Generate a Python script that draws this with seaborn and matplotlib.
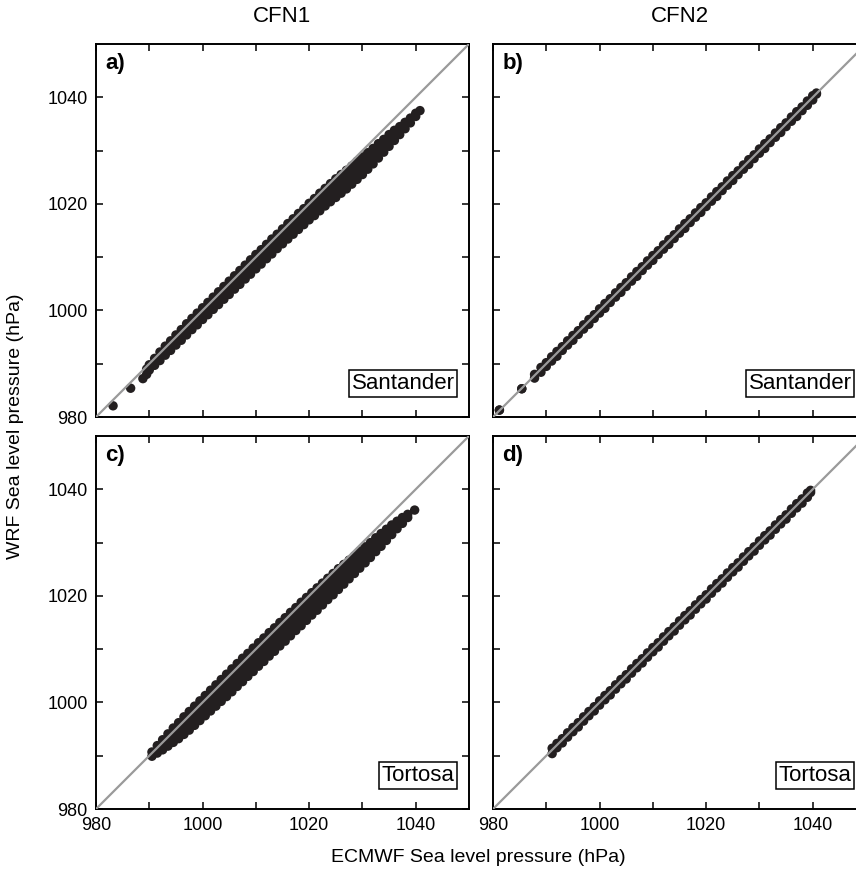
import matplotlib
matplotlib.use("Agg")
import matplotlib.pyplot as plt
import pandas as pd
import seaborn as sns
from matplotlib.ticker import FixedLocator

# ---------------- data ----------------
# Panel a: Santander, CFN1  (column x -> WRF values)
a_ecmwf = [983.2, 986.5, 988.8, 989.5, 990, 991, 992, 993, 994, 995, 996, 997, 998, 999,
           1000, 1001, 1002, 1003, 1004, 1005, 1006, 1007, 1008, 1009, 1010, 1011, 1012,
           1013, 1014, 1015, 1016, 1017, 1018, 1019, 1020, 1021, 1022, 1023, 1024, 1025,
           1026, 1027, 1028, 1029, 1030, 1031, 1032, 1033, 1034, 1035, 1036, 1037, 1038,
           1039, 1040, 1040.8]
a_wrf = [[982.1], [985.4], [987.2], [989.0, 988.0], [989.8, 988.8], [991.0, 989.7],
         [992.2, 991.4, 990.6], [993.3, 992.4, 991.6], [994.3, 993.4, 992.5],
         [995.4, 994.4, 993.5], [996.4, 995.4, 994.4], [997.5, 996.4, 995.4],
         [998.5, 997.4, 996.4], [999.5, 998.4, 997.3], [1000.5, 999.4, 998.3],
         [1001.5, 1000.4, 999.2], [1002.5, 1001.4, 1000.2], [1003.5, 1002.3, 1001.1],
         [1004.5, 1003.3, 1002.1], [1005.5, 1004.3, 1003.0], [1006.5, 1005.3, 1004.0],
         [1007.5, 1006.2, 1004.9], [1008.5, 1007.2, 1005.9], [1009.5, 1008.2, 1006.8],
         [1010.5, 1009.2, 1007.8], [1011.4, 1010.1, 1008.7], [1012.4, 1011.1, 1009.7],
         [1013.4, 1012.0, 1010.6], [1014.3, 1013.0, 1011.6], [1015.3, 1014.0, 1012.5],
         [1016.3, 1015.0, 1013.4], [1017.2, 1015.8, 1014.3], [1018.2, 1016.7, 1015.2],
         [1019.1, 1017.6, 1016.1], [1020.1, 1018.6, 1017.0],
         [1021.0, 1019.9, 1018.8, 1017.8], [1022.0, 1020.9, 1019.8, 1018.7],
         [1022.9, 1021.8, 1020.7, 1019.6], [1023.8, 1022.7, 1021.5, 1020.4],
         [1024.7, 1023.5, 1022.4, 1021.2], [1025.5, 1024.3, 1023.2, 1022.0],
         [1026.3, 1025.1, 1024.0, 1022.8], [1027.1, 1026.0, 1024.8, 1023.7],
         [1028.0, 1026.9, 1025.7, 1024.6], [1028.8, 1027.7, 1026.6, 1025.5],
         [1029.6, 1028.6, 1027.5, 1026.5], [1030.4, 1029.4, 1028.5, 1027.5],
         [1031.3, 1030.4, 1029.5, 1028.6], [1032.1, 1030.9, 1029.7],
         [1033.0, 1031.9, 1030.8], [1033.8, 1032.8, 1031.9], [1034.5, 1033.0],
         [1035.3, 1034.1], [1036.1, 1035.2], [1037.0, 1036.4], [1037.5]]

# Panel c: Tortosa, CFN1
c_ecmwf = [990.5, 991.5, 992.5, 993.5, 994.5, 995.5, 996.5, 997.5, 998.5, 999.5, 1000.5,
           1001.5, 1002.5, 1003.5, 1004.5, 1005.5, 1006.5, 1007.5, 1008.5, 1009.5, 1010.5,
           1011.5, 1012.5, 1013.5, 1014.5, 1015.5, 1016.5, 1017.5, 1018.5, 1019.5, 1020.5,
           1021.5, 1022.5, 1023.5, 1024.5, 1025.5, 1026.5, 1027.5, 1028.5, 1029.5, 1030.5,
           1031.5, 1032.5, 1033.5, 1034.5, 1035.5, 1036.5, 1037.5, 1038.5, 1039.8]
c_wrf = [[990.7, 989.9], [991.9, 990.5], [993.0, 992.0, 991.1], [994.1, 993.0, 991.8],
         [995.2, 993.9, 992.5], [996.2, 995.2, 994.2, 993.2], [997.3, 996.2, 995.1, 994.0],
         [998.3, 997.1, 996.0, 994.8], [999.3, 998.1, 996.9, 995.7],
         [1000.3, 999.1, 997.8, 996.6], [1001.3, 1000.0, 998.8, 997.5],
         [1002.3, 1001.0, 999.7, 998.4], [1003.3, 1002.0, 1000.6, 999.3],
         [1004.3, 1002.9, 1001.6, 1000.2], [1005.3, 1003.9, 1002.5, 1001.1],
         [1006.3, 1004.9, 1003.4, 1002.0], [1007.3, 1005.9, 1004.4, 1003.0],
         [1008.3, 1006.8, 1005.4, 1003.9], [1009.2, 1007.8, 1006.3, 1004.9],
         [1010.2, 1008.7, 1007.3, 1005.8], [1011.2, 1009.7, 1008.3, 1006.8],
         [1012.1, 1010.6, 1009.2, 1007.7], [1013.1, 1011.6, 1010.2, 1008.7],
         [1014.0, 1012.5, 1011.1, 1009.6], [1015.0, 1013.5, 1012.1, 1010.6],
         [1015.9, 1014.4, 1013.0, 1011.5], [1016.9, 1015.4, 1014.0, 1012.5],
         [1017.8, 1016.4, 1014.9, 1013.5], [1018.8, 1017.3, 1015.9, 1014.4],
         [1019.7, 1018.3, 1016.8, 1015.4], [1020.6, 1019.2, 1017.8, 1016.4],
         [1021.5, 1020.1, 1018.7, 1017.3], [1022.4, 1021.0, 1019.7, 1018.3],
         [1023.3, 1022.0, 1020.6, 1019.3], [1024.2, 1022.9, 1021.5, 1020.2],
         [1025.1, 1023.8, 1022.5, 1021.2], [1025.9, 1024.7, 1023.4, 1022.2],
         [1026.7, 1025.5, 1024.4, 1023.2], [1027.5, 1026.4, 1025.3, 1024.2],
         [1028.4, 1027.3, 1026.3, 1025.2], [1029.2, 1028.2, 1027.2, 1026.2],
         [1030.0, 1029.1, 1028.1, 1027.2], [1030.9, 1029.6, 1028.3],
         [1031.7, 1030.5, 1029.3], [1032.5, 1031.5, 1030.4], [1033.3, 1032.4, 1031.5],
         [1034.0, 1032.6], [1034.7, 1033.6], [1035.3, 1034.7], [1036.1]]

# Panel b: Santander, CFN2 (upper / lower edge of the narrow band)
b_ecmwf = [981.2, 985.4, 987.8, 989, 990, 991, 992, 993, 994, 995, 996, 997, 998, 999, 1000,
           1001, 1002, 1003, 1004, 1005, 1006, 1007, 1008, 1009, 1010, 1011, 1012, 1013,
           1014, 1015, 1016, 1017, 1018, 1019, 1020, 1021, 1022, 1023, 1024, 1025, 1026,
           1027, 1028, 1029, 1030, 1031, 1032, 1033, 1034, 1035, 1036, 1037, 1038, 1039,
           1040, 1040.7]
b_wrf_hi = [981.3, 985.3, 988.0, 989.3, 990.2, 991.3, 992.3, 993.2, 994.3, 995.3, 996.2,
            997.3, 998.3, 999.2, 1000.3, 1001.3, 1002.2, 1003.3, 1004.3, 1005.2, 1006.3,
            1007.3, 1008.2, 1009.3, 1010.3, 1011.2, 1012.3, 1013.3, 1014.2, 1015.3, 1016.3,
            1017.2, 1018.3, 1019.3, 1020.2, 1021.3, 1022.3, 1023.2, 1024.3, 1025.3, 1026.2,
            1027.3, 1028.3, 1029.2, 1030.3, 1031.3, 1032.2, 1033.3, 1034.3, 1035.2, 1036.3,
            1037.3, 1038.2, 1039.3, 1040.3, 1040.8]
b_wrf_lo = [981.3, 985.3, 987.3, 988.4, 989.5, 990.5, 991.4, 992.5, 993.5, 994.4, 995.5,
            996.5, 997.4, 998.5, 999.5, 1000.4, 1001.5, 1002.5, 1003.4, 1004.5, 1005.5,
            1006.4, 1007.5, 1008.5, 1009.4, 1010.5, 1011.5, 1012.4, 1013.5, 1014.5, 1015.4,
            1016.5, 1017.5, 1018.4, 1019.5, 1020.5, 1021.4, 1022.5, 1023.5, 1024.4, 1025.5,
            1026.5, 1027.4, 1028.5, 1029.5, 1030.4, 1031.5, 1032.5, 1033.4, 1034.5, 1035.5,
            1036.4, 1037.5, 1038.5, 1039.5, 1040.6]

# Panel d: Tortosa, CFN2
d_ecmwf = [991.1, 992, 993, 994, 995, 996, 997, 998, 999, 1000, 1001, 1002, 1003, 1004,
           1005, 1006, 1007, 1008, 1009, 1010, 1011, 1012, 1013, 1014, 1015, 1016, 1017,
           1018, 1019, 1020, 1021, 1022, 1023, 1024, 1025, 1026, 1027, 1028, 1029, 1030,
           1031, 1032, 1033, 1034, 1035, 1036, 1037, 1038, 1039, 1039.6]
d_wrf_hi = [991.4, 992.3, 993.2, 994.3, 995.3, 996.2, 997.3, 998.3, 999.2, 1000.3, 1001.3,
            1002.2, 1003.3, 1004.3, 1005.2, 1006.3, 1007.3, 1008.2, 1009.3, 1010.3, 1011.2,
            1012.3, 1013.3, 1014.2, 1015.3, 1016.3, 1017.2, 1018.3, 1019.3, 1020.2, 1021.3,
            1022.3, 1023.2, 1024.3, 1025.3, 1026.2, 1027.3, 1028.3, 1029.2, 1030.3, 1031.3,
            1032.2, 1033.3, 1034.3, 1035.2, 1036.3, 1037.3, 1038.2, 1039.3, 1039.8]
d_wrf_lo = [990.4, 991.5, 992.4, 993.5, 994.5, 995.4, 996.5, 997.5, 998.4, 999.5, 1000.5,
            1001.4, 1002.5, 1003.5, 1004.4, 1005.5, 1006.5, 1007.4, 1008.5, 1009.5, 1010.4,
            1011.5, 1012.5, 1013.4, 1014.5, 1015.5, 1016.4, 1017.5, 1018.5, 1019.4, 1020.5,
            1021.5, 1022.4, 1023.5, 1024.5, 1025.4, 1026.5, 1027.5, 1028.4, 1029.5, 1030.5,
            1031.4, 1032.5, 1033.5, 1034.4, 1035.5, 1036.5, 1037.4, 1038.5, 1039.4]

col_titles = ["CFN1", "CFN2"]
stations = ["Santander", "Tortosa"]
panel_tags = ["a)", "b)", "c)", "d)"]
major_ticks = [980, 1000, 1020, 1040]
minor_ticks = [990, 1010, 1030]
x_label = "ECMWF Sea level pressure (hPa)"
y_label = "WRF Sea level pressure (hPa)"

# ---------------- build long table ----------------
rows = []
for x, ys in zip(a_ecmwf, a_wrf):
    for y in ys:
        rows.append(("a", x, y))
for x, ys in zip(c_ecmwf, c_wrf):
    for y in ys:
        rows.append(("c", x, y))
for x, hi, lo in zip(b_ecmwf, b_wrf_hi, b_wrf_lo):
    rows.append(("b", x, hi))
    rows.append(("b", x, lo))
for x, hi, lo in zip(d_ecmwf, d_wrf_hi, d_wrf_lo):
    rows.append(("d", x, hi))
    rows.append(("d", x, lo))
df = pd.DataFrame(rows, columns=["panel", "ecmwf", "wrf"])

# ---------------- figure ----------------
sns.set_style("white")
plt.rcParams["font.family"] = ["Liberation Sans", "DejaVu Sans"]
for k in ["text.color", "axes.labelcolor", "xtick.color", "ytick.color"]:
    plt.rcParams[k] = "black"

W, H = 856, 874
fig = plt.figure(figsize=(W / 100, H / 100), dpi=100)
pw = 373
lefts = [96, 493]
tops = [44, 436]

panels = [["a", "b"], ["c", "d"]]
for r in range(2):
    for cidx in range(2):
        key = panels[r][cidx]
        ax = fig.add_axes([lefts[cidx] / W, 1 - (tops[r] + pw) / H, pw / W, pw / H])
        sub = df[df["panel"] == key]
        sns.scatterplot(data=sub, x="ecmwf", y="wrf", ax=ax, color="#231f20", s=46,
                        linewidth=0, edgecolor="none", legend=False, zorder=2)
        ax.axline((0, 0), slope=1, color="#9a9a9a", lw=1.6, zorder=3)
        ax.set_xlim(980, 1050)
        ax.set_ylim(980, 1050)
        ax.set_xticks(major_ticks)
        ax.set_yticks(major_ticks)
        ax.xaxis.set_minor_locator(FixedLocator(minor_ticks))
        ax.yaxis.set_minor_locator(FixedLocator(minor_ticks))
        ax.tick_params(which="both", direction="in", length=5, width=1.1, top=True,
                       right=True, bottom=True, left=True, labelsize=13, pad=6,
                       color="black", labelcolor="black")
        ax.set_xlabel("")
        ax.set_ylabel("")
        if r == 0:
            ax.tick_params(labelbottom=False)
            ax.set_title(col_titles[cidx], fontsize=16, pad=16, color="black")
        if cidx == 1:
            ax.tick_params(labelleft=False)
        for sp in ax.spines.values():
            sp.set_color("black")
            sp.set_linewidth(1.4)
            sp.set_visible(True)
        ax.text(0.025, 0.975, panel_tags[r * 2 + cidx], transform=ax.transAxes,
                ha="left", va="top", fontsize=16, fontweight="bold", color="black")
        ax.text(0.962, 0.062, stations[r], transform=ax.transAxes, ha="right",
                va="bottom", fontsize=16, color="black",
                bbox=dict(boxstyle="square,pad=0.12", fc="white", ec="black", lw=1.1))

fig.text(478 / W, 1 - 858 / H, x_label, ha="center", va="center", fontsize=14)
fig.text(16 / W, 1 - 426 / H, y_label, ha="center", va="center", rotation=90, fontsize=14)

fig.savefig("out.png", dpi=100)
